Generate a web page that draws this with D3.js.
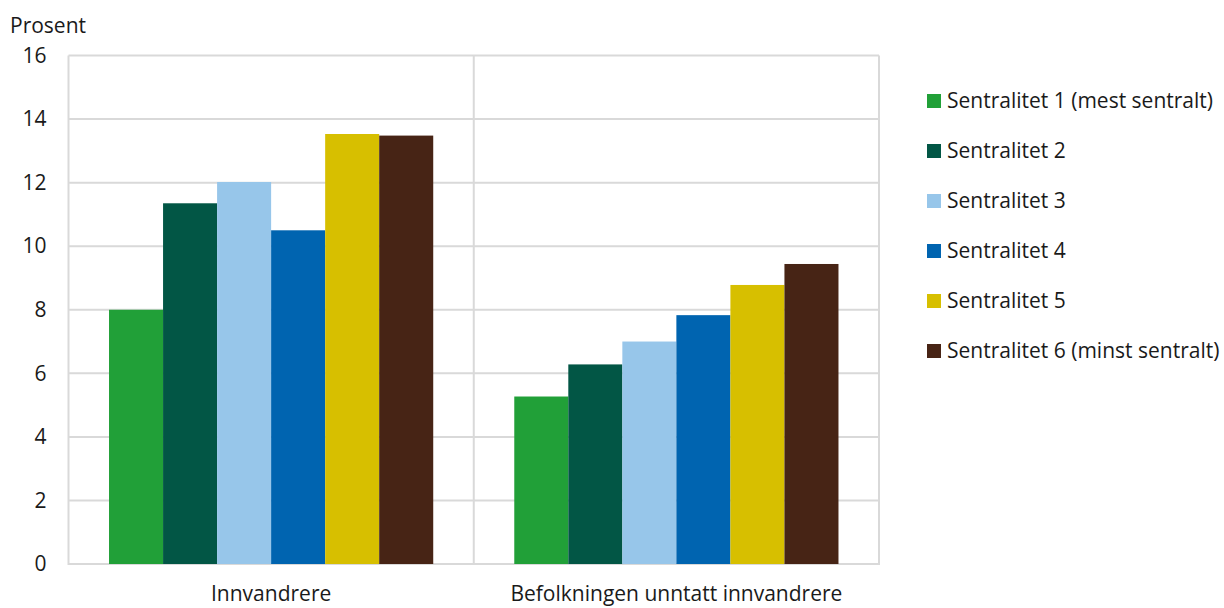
<!DOCTYPE html>
<html><head><meta charset="utf-8">
<script src="https://cdn.jsdelivr.net/npm/d3@7"></script>
<style>body{margin:0;background:#fff;font-family:"Open Sans",sans-serif;}</style>
</head><body>
<svg id="c" width="1224" height="608"></svg>
<script>
const categories = ["Innvandrere", "Befolkningen unntatt innvandrere"];
const seriesNames = ["Sentralitet 1 (mest sentralt)", "Sentralitet 2", "Sentralitet 3", "Sentralitet 4", "Sentralitet 5", "Sentralitet 6 (minst sentralt)"];
const seriesColors = ["#21a038", "#025645", "#97c6ea", "#0064b0", "#d7bf00", "#472415"];
const valuesInnvandrere = [8.0, 11.35, 12.02, 10.5, 13.53, 13.48];
const valuesBefolkningen = [5.27, 6.28, 7.0, 7.83, 8.78, 9.44];
const yTicks = [0, 2, 4, 6, 8, 10, 12, 14, 16];
const yTitle = "Prosent";

const data = [valuesInnvandrere, valuesBefolkningen];
const svg = d3.select("#c");
const L = 68.5, R = 879, T = 55.5, B = 564;
const FS = 21;
const x0 = d3.scaleBand().domain(categories).range([L, R]).paddingInner(0).paddingOuter(0);
const x1 = d3.scaleBand().domain(d3.range(seriesNames.length)).range([0, x0.bandwidth()]).paddingOuter(0.75).paddingInner(0);
const y = d3.scaleLinear().domain([0, 16]).range([B, T]);
const grid = "#d9d9d9";

svg.append("g").selectAll("line").data(yTicks).join("line")
  .attr("x1", L).attr("x2", R).attr("y1", d => y(d)).attr("y2", d => y(d))
  .attr("stroke", grid).attr("stroke-width", 2);
const bounds = [L, ...categories.map(c => x0(c) + x0.bandwidth())];
svg.append("g").selectAll("line").data(bounds).join("line")
  .attr("x1", d => d).attr("x2", d => d).attr("y1", T).attr("y2", B + 1)
  .attr("stroke", grid).attr("stroke-width", 2);

const g = svg.append("g").selectAll("g").data(data).join("g")
  .attr("transform", (d, i) => `translate(${x0(categories[i])},0)`);
g.selectAll("rect").data(d => d).join("rect")
  .attr("x", (d, j) => x1(j)).attr("width", x1.bandwidth())
  .attr("y", d => y(d)).attr("height", d => B - y(d))
  .attr("fill", (d, j) => seriesColors[j]);

const yAxis = d3.axisLeft(y).tickValues(yTicks).tickSize(0).tickPadding(22);
const ya = svg.append("g").attr("transform", `translate(${L},0)`).call(yAxis);
ya.select(".domain").remove();
ya.selectAll("text").attr("font-family", "'Open Sans', sans-serif").attr("font-size", FS).attr("fill", "#1a1a1a");

const xAxis = d3.axisBottom(x0).tickSize(0).tickPadding(22);
const xa = svg.append("g").attr("transform", `translate(0,${B})`).call(xAxis);
xa.select(".domain").remove();
xa.selectAll("text").attr("font-family", "'Open Sans', sans-serif").attr("font-size", FS).attr("fill", "#1a1a1a");

svg.append("text").attr("x", 10).attr("y", 33).text(yTitle)
  .attr("font-family", "'Open Sans', sans-serif").attr("font-size", FS).attr("fill", "#1a1a1a");

const leg = svg.append("g").selectAll("g").data(seriesNames).join("g")
  .attr("transform", (d, i) => `translate(927,${101 + i * 50})`);
leg.append("rect").attr("x", 0).attr("y", -7).attr("width", 14).attr("height", 14)
  .attr("fill", (d, i) => seriesColors[i]);
leg.append("text").attr("x", 20).attr("y", 0).attr("dy", "0.35em").text(d => d)
  .attr("font-family", "'Open Sans', sans-serif").attr("font-size", FS).attr("fill", "#1a1a1a");
</script>
</body></html>
